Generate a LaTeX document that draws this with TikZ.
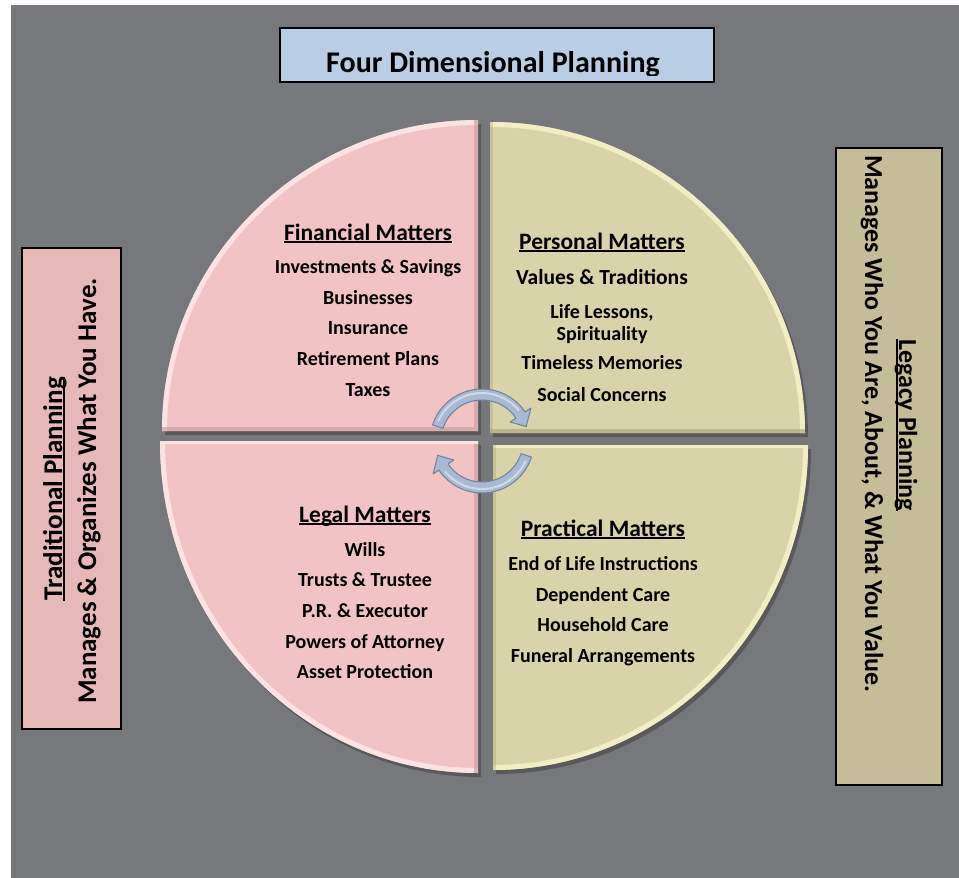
\documentclass[tikz,border=0pt]{standalone}
\usepackage{fontspec}
\setmainfont{Carlito}
\definecolor{bg}{HTML}{77787C}
\definecolor{pinkq}{HTML}{F2C3C5}
\definecolor{pinkhi}{HTML}{FBE3E3}
\definecolor{pinklo}{HTML}{C99A9C}
\definecolor{tanq}{HTML}{D8D3A9}
\definecolor{tanhi}{HTML}{F1EDC4}
\definecolor{tanlo}{HTML}{A8A27A}
\definecolor{pinkbox}{HTML}{E6B9B8}
\definecolor{tanbox}{HTML}{C4BD97}
\definecolor{titlefill}{HTML}{B9CDE5}
\definecolor{arrowfill}{HTML}{A9B9D1}
\definecolor{arrowline}{HTML}{6F819E}
\newcommand\myul[1]{\setbox0=\hbox{#1}\rlap{\rule[-3pt]{\wd0}{1.8pt}}\copy0}
\newcommand\hdrfont{\fontsize{23.5}{26}\selectfont\bfseries}
\newcommand\itmfont{\fontsize{20}{23}\selectfont\bfseries}
\newcommand\sidefont{\fontsize{27}{30}\selectfont\bfseries}
\newcommand\rsidefont{\fontsize{26}{30}\selectfont\bfseries}
\newcommand\ttlfont{\fontsize{30}{33}\selectfont\bfseries}
\tikzset{
  boxframe/.style={draw=black, line width=1.5pt},
  txt/.style={anchor=base, inner sep=0pt},
  shadowq/.style={fill=black, opacity=0.25},
  arrowshape/.style={fill=arrowfill, draw=arrowline, line width=1pt, line join=round},
}
\begin{document}
\begin{tikzpicture}[x=1pt,y=-1pt]
\useasboundingbox (0,0) rectangle (959,878);
\fill[white] (0,0) rectangle (959,878);
\fill[bg] (11,5) rectangle (959,878);

% ---------- title ----------
\fill[titlefill] (280,28) rectangle (714,82);
\begin{scope}
  \clip (280,28) rectangle (714,75);
  \node[txt, font=\ttlfont] (title) at (493,72) {Four Dimensional Planning};
\end{scope}
\draw[boxframe] (280,28) rectangle (714,82);

% ---------- side boxes ----------
\fill[pinkbox] (22,248) rectangle (121,729);
\draw[boxframe] (22,248) rectangle (121,729);
\node[txt, rotate=90, font=\sidefont] (tradtitle) at (62,489) {\myul{Traditional Planning}};
\node[txt, rotate=90, font=\sidefont] (tradsub) at (96,491) {Manages \& Organizes What You Have.};

\fill[tanbox] (836,148) rectangle (942,785);
\draw[boxframe] (836,148) rectangle (942,785);
\node[txt, rotate=-90, font=\rsidefont] (legtitle) at (899,425) {\myul{Legacy Planning}};
\node[txt, rotate=-90, font=\rsidefont] (legsub) at (865,424) {Manages Who You Are, About, \& What You Value.};

% ---------- quadrants ----------
% shadows
\fill[shadowq] (481,435) -- (481,124) arc[start angle=-90, end angle=-180, x radius=316, y radius=311] -- cycle;
\fill[shadowq] (493,437) -- (493,126) arc[start angle=-90, end angle=0, x radius=315, y radius=311] -- cycle;
\fill[shadowq] (481,445) -- (163,445) arc[start angle=180, end angle=90, x radius=318, y radius=332] -- cycle;
\fill[shadowq] (496,449) -- (811,449) arc[start angle=0, end angle=90, x radius=315, y radius=325] -- cycle;

% top-left (Financial)
\begin{scope}
  \clip (478,431) -- (478,120) arc[start angle=-90, end angle=-180, x radius=316, y radius=311] -- cycle;
  \fill[pinkq] (0,0) rectangle (959,878);
  \draw[pinkhi, line width=10pt] (478,120) arc[start angle=-90, end angle=-180, x radius=316, y radius=311];
  \draw[pinklo, line width=8pt, opacity=0.6] (162,431) -- (478,431) -- (478,120);
\end{scope}
% top-right (Personal)
\begin{scope}
  \clip (490,433) -- (490,122) arc[start angle=-90, end angle=0, x radius=315, y radius=311] -- cycle;
  \fill[tanq] (0,0) rectangle (959,878);
  \draw[tanhi, line width=10pt] (490,122) arc[start angle=-90, end angle=0, x radius=315, y radius=311];
  \draw[tanlo, line width=8pt, opacity=0.6] (805,433) -- (490,433);
  \draw[tanlo, line width=5pt, opacity=0.35] (490,433) -- (490,122);
\end{scope}
% bottom-left (Legal)
\begin{scope}
  \clip (478,441) -- (160,441) arc[start angle=180, end angle=90, x radius=318, y radius=332] -- cycle;
  \fill[pinkq] (0,0) rectangle (959,878);
  \draw[pinkhi, line width=10pt] (160,441) arc[start angle=180, end angle=90, x radius=318, y radius=332];
  \draw[pinklo, line width=8pt, opacity=0.6] (478,773) -- (478,441);
  \draw[pinkhi, line width=5pt] (160,441) -- (478,441);
\end{scope}
% bottom-right (Practical)
\begin{scope}
  \clip (493,445) -- (808,445) arc[start angle=0, end angle=90, x radius=315, y radius=325] -- cycle;
  \fill[tanq] (0,0) rectangle (959,878);
  \draw[tanhi, line width=10pt] (808,445) arc[start angle=0, end angle=90, x radius=315, y radius=325];
  \draw[tanhi, line width=5pt] (493,445) -- (808,445);
  \draw[tanlo, line width=5pt, opacity=0.35] (493,445) -- (493,770);
\end{scope}

% ---------- quadrant texts ----------
\node[txt, font=\hdrfont] (fin) at (368,240) {\myul{Financial Matters}};
\node[txt, font=\itmfont] (fin1) at (368,273) {Investments \& Savings};
\node[txt, font=\itmfont] (fin2) at (368,304) {Businesses};
\node[txt, font=\itmfont] (fin3) at (368,334) {Insurance};
\node[txt, font=\itmfont] (fin4) at (368,365) {Retirement Plans};
\node[txt, font=\itmfont] (fin5) at (368,396) {Taxes};

\node[txt, font=\hdrfont] (per) at (602,249) {\myul{Personal Matters}};
\node[txt, font=\fontsize{21.5}{24}\selectfont\bfseries] (per1) at (602,284) {Values \& Traditions};
\node[txt, font=\itmfont] (per2) at (602,318) {Life Lessons,};
\node[txt, font=\itmfont] (per3) at (602,340) {Spirituality};
\node[txt, font=\itmfont] (per4) at (602,369) {Timeless Memories};
\node[txt, font=\itmfont] (per5) at (602,401) {Social Concerns};

\node[txt, font=\hdrfont] (leg) at (365,522) {\myul{Legal Matters}};
\node[txt, font=\itmfont] (leg1) at (365,556) {Wills};
\node[txt, font=\itmfont] (leg2) at (365,586) {Trusts \& Trustee};
\node[txt, font=\itmfont] (leg3) at (365,617) {P.R. \& Executor};
\node[txt, font=\itmfont] (leg4) at (365,648) {Powers of Attorney};
\node[txt, font=\itmfont] (leg5) at (365,678) {Asset Protection};

\node[txt, font=\hdrfont] (pra) at (603,536) {\myul{Practical Matters}};
\node[txt, font=\itmfont] (pra1) at (603,570) {End of Life Instructions};
\node[txt, font=\itmfont] (pra2) at (603,601) {Dependent Care};
\node[txt, font=\itmfont] (pra3) at (603,631) {Household Care};
\node[txt, font=\itmfont] (pra4) at (603,662) {Funeral Arrangements};

% ---------- circular arrows ----------
\coordinate (ctr) at (482,441);
\begin{scope}[shift={(ctr)}]
  \path[arrowshape] (-162:52) arc[start angle=-162, end angle=-34, radius=52]
     -- (-34:59) -- (-18:46.5) -- (-34:34) -- (-34:41)
     arc[start angle=-34, end angle=-162, radius=41] -- cycle;
  \draw[white, opacity=0.45, line width=2pt, line cap=round] (-155:48) arc[start angle=-155, end angle=-40, radius=48];
  \path[arrowshape] (18:52) arc[start angle=18, end angle=146, radius=52]
     -- (146:59) -- (162:46.5) -- (146:34) -- (146:41)
     arc[start angle=146, end angle=18, radius=41] -- cycle;
  \draw[white, opacity=0.45, line width=2pt, line cap=round] (25:48) arc[start angle=25, end angle=140, radius=48];
\end{scope}
\end{tikzpicture}
\end{document}
